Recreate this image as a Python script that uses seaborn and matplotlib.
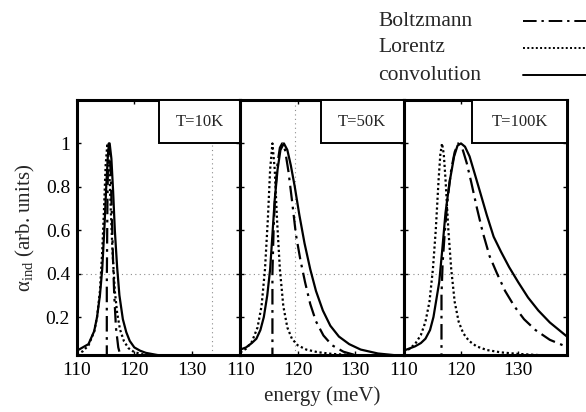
import matplotlib
matplotlib.use("Agg")
import matplotlib.pyplot as plt
import pandas as pd
import seaborn as sns
from matplotlib.lines import Line2D
from matplotlib.patches import Rectangle

sns.set_theme(style="ticks")
plt.rcParams["font.family"] = ["Liberation Serif", "DejaVu Serif"]
plt.rcParams["mathtext.fontset"] = "custom"
plt.rcParams["mathtext.rm"] = "Liberation Serif"
plt.rcParams["mathtext.it"] = "Liberation Serif:italic"

temperatures = ["T=10K", "T=50K", "T=100K"]
x_ticks = [110, 120, 130]
y_ticks = [0.2, 0.4, 0.6, 0.8, 1.0]
y_tick_labels = ["0.2", "0.4", "0.6", "0.8", "1"]

# ---- T = 10 K ----
e10_boltz = [110.0, 115.2, 115.2, 115.3, 115.4, 115.55, 115.7, 115.9, 116.1, 116.3, 116.5, 116.8, 117.2, 117.6, 118.5, 138.5]
a10_boltz = [0.0, 0.0, 0.35, 0.7, 0.9, 1.0, 0.97, 0.85, 0.65, 0.45, 0.3, 0.15, 0.06, 0.02, 0.003, 0.0]
e10_lor = [110, 111, 112, 113, 113.5, 114, 114.4, 114.7, 115.0, 115.3, 115.6, 115.9, 116.2,
           116.6, 117.0, 117.5, 118.2, 119, 120, 121.5, 123.5, 126, 130, 134, 138.5]
a10_lor = [0.028, 0.042, 0.069, 0.133, 0.2, 0.32, 0.5, 0.69, 0.9, 1.0, 0.9, 0.69, 0.5,
           0.32, 0.22, 0.143, 0.088, 0.056, 0.038, 0.028, 0.022, 0.018, 0.014, 0.012, 0.01]
e10_conv = [110, 111, 112, 113, 113.5, 114, 114.4, 114.8, 115.1, 115.4, 115.7, 116.0, 116.3, 116.6,
            117.0, 117.4, 118, 118.6, 119.2, 120, 121, 122, 124, 127, 130, 134, 138.5]
a10_conv = [0.045, 0.06, 0.075, 0.135, 0.2, 0.3, 0.42, 0.62, 0.8, 0.95, 1.0, 0.93, 0.78, 0.6,
            0.43, 0.3, 0.19, 0.13, 0.09, 0.06, 0.045, 0.035, 0.025, 0.018, 0.014, 0.01, 0.008]

# ---- T = 50 K ----
e50_boltz = [110.0, 115.6, 115.6, 115.8, 116.1, 116.5, 116.9, 117.3, 117.8, 118.4, 119.0, 119.7, 120.5,
             121.3, 122.2, 123.2, 124.5, 126, 128, 130, 133, 138.5]
a50_boltz = [0.0, 0.0, 0.4, 0.6, 0.78, 0.91, 0.98, 1.0, 0.97, 0.87, 0.74, 0.58, 0.46,
             0.36, 0.26, 0.18, 0.115, 0.07, 0.04, 0.025, 0.013, 0.006]
e50_lor = [110, 111, 112, 113, 113.7, 114.3, 114.8, 115.2, 115.6, 116.0, 116.4, 116.9, 117.5,
           118.2, 119, 120, 121.5, 123.5, 126, 130, 134, 138.5]
a50_lor = [0.037, 0.054, 0.085, 0.152, 0.25, 0.42, 0.65, 0.88, 1.0, 0.88, 0.65, 0.42, 0.25,
           0.152, 0.1, 0.07, 0.05, 0.038, 0.03, 0.024, 0.02, 0.018]
e50_conv = [110, 111, 112, 112.8, 113.5, 114.1, 114.7, 115.2, 115.6, 116.0, 116.5, 117.0, 117.6,
            118.2, 118.8, 119.5, 120.3, 121.2, 122.2, 123.2, 124.4, 125.7, 127.2, 129, 131, 134, 138.5]
a50_conv = [0.05, 0.06, 0.08, 0.1, 0.14, 0.2, 0.3, 0.42, 0.58, 0.74, 0.88, 0.97, 1.0,
            0.97, 0.9, 0.8, 0.67, 0.54, 0.42, 0.32, 0.23, 0.16, 0.11, 0.075, 0.05, 0.032, 0.02]

# ---- T = 100 K ----
e100_boltz = [110.0, 116.6, 116.6, 116.8, 117.2, 117.7, 118.3, 118.9, 119.5, 120.2, 121.0, 121.8, 122.8,
              123.8, 125.0, 126.3, 127.7, 129.3, 131.0, 133.0, 135.5, 138.5]
a100_boltz = [0.0, 0.0, 0.3, 0.45, 0.6, 0.75, 0.88, 0.96, 1.0, 0.98, 0.91, 0.82, 0.7,
              0.59, 0.48, 0.4, 0.32, 0.25, 0.19, 0.14, 0.095, 0.062]
e100_lor = [110, 111, 112, 113, 113.8, 114.5, 115.1, 115.6, 116.1, 116.4, 116.7, 117.0, 117.3,
            117.8, 118.3, 118.9, 119.6, 120.4, 121.4, 122.7, 124.5, 127, 130, 134, 138.5]
a100_lor = [0.039, 0.053, 0.076, 0.117, 0.178, 0.27, 0.42, 0.6, 0.835, 0.95, 1.0, 0.95, 0.835,
            0.6, 0.42, 0.27, 0.178, 0.125, 0.09, 0.065, 0.048, 0.037, 0.03, 0.024, 0.02]
e100_conv = [110, 111, 112, 113, 113.8, 114.6, 115.2, 115.7, 116.2, 116.7, 117.3, 118, 118.8, 119.4,
             120, 120.7, 121.5, 122.4, 123.4, 124.5, 125.7, 127, 128.4, 130, 131.7, 133.5, 135.5, 138.5]
a100_conv = [0.045, 0.055, 0.065, 0.08, 0.1, 0.14, 0.2, 0.28, 0.36, 0.5, 0.68, 0.82, 0.94, 0.99,
             1.0, 0.985, 0.94, 0.86, 0.77, 0.67, 0.57, 0.5, 0.43, 0.36, 0.29, 0.23, 0.175, 0.11]

panels = [
    ((e10_boltz, a10_boltz), (e10_lor, a10_lor), (e10_conv, a10_conv)),
    ((e50_boltz, a50_boltz), (e50_lor, a50_lor), (e50_conv, a50_conv)),
    ((e100_boltz, a100_boltz), (e100_lor, a100_lor), (e100_conv, a100_conv)),
]
vertical_guides = [133.6, 119.6, None]

styles = {
    "Boltzmann": (0, (7, 2.5, 1.2, 2.5)),
    "Lorentz": (0, (1.0, 1.2)),
    "convolution": "-",
}
names = ["Boltzmann", "Lorentz", "convolution"]

fig = plt.figure(figsize=(5.86, 4.12), dpi=100)
W, H = 586.0, 412.0
left_px, right_px, top_px, bottom_px = 77, 567, 100, 355
pw = (right_px - left_px) / 3.0
ph = bottom_px - top_px
label_box_w = [81, 83, 95]   # pixel widths of the temperature boxes
label_box_h = 43

for i, (curves, label, vguide) in enumerate(zip(panels, temperatures, vertical_guides)):
    ax = fig.add_axes([(left_px + i * pw) / W, 1 - bottom_px / H, pw / W, ph / H])
    ax.axhline(0.4, color="0.55", lw=0.8, ls=(0, (1, 3)), zorder=0)
    if vguide is not None:
        ax.axvline(vguide, color="0.55", lw=0.8, ls=(0, (1, 3)), zorder=0)
    for name, (e, a) in zip(names, curves):
        df = pd.DataFrame({"energy": e, "alpha": a})
        sns.lineplot(data=df, x="energy", y="alpha", ax=ax, sort=False, estimator=None,
                     color="black", lw=1.6, linestyle=styles[name])
    ax.set_xlim(110, 138.5)
    ax.set_ylim(0.025, 1.2)
    ax.set_xticks(x_ticks)
    ax.set_yticks(y_ticks)
    ax.tick_params(direction="in", top=True, right=True, length=3, width=1.0,
                   labelsize=14, colors="black", pad=5)
    if i == 0:
        ax.set_yticklabels(y_tick_labels)
        ax.set_ylabel(r"$\mathregular{\alpha_{ind}}$ (arb. units)", fontsize=15, labelpad=6)
    else:
        ax.set_yticklabels([])
        ax.set_ylabel("")
    ax.set_xticklabels([str(t) for t in x_ticks])
    ax.set_xlabel("")
    for sp in ax.spines.values():
        sp.set_linewidth(2.2)
        sp.set_color("black")

    bw = label_box_w[i] / pw
    bh = label_box_h / ph
    ax.add_patch(Rectangle((1 - bw, 1 - bh), bw, bh, transform=ax.transAxes, facecolor="white",
                           edgecolor="black", lw=1.4, zorder=5, clip_on=False))
    ax.text(1 - bw / 2, 1 - bh / 2, label, transform=ax.transAxes, ha="center", va="center",
            fontsize=12, zorder=6)

fig.text((left_px + right_px) / 2 / W, 1 - 396 / H, "energy (meV)", ha="center", va="center", fontsize=15)

# key: labels flush left, sample lines running off the right edge
key_rows = [21, 48, 75]
for name, ypix in zip(names, key_rows):
    fig.text(378 / W, 1 - ypix / H, name, ha="left", va="center", fontsize=15.5)
    fig.add_artist(Line2D([523 / W, 1.0], [1 - ypix / H, 1 - ypix / H], transform=fig.transFigure,
                          color="black", lw=1.4, linestyle=styles[name]))

fig.savefig("out.png", dpi=100, facecolor="white")
